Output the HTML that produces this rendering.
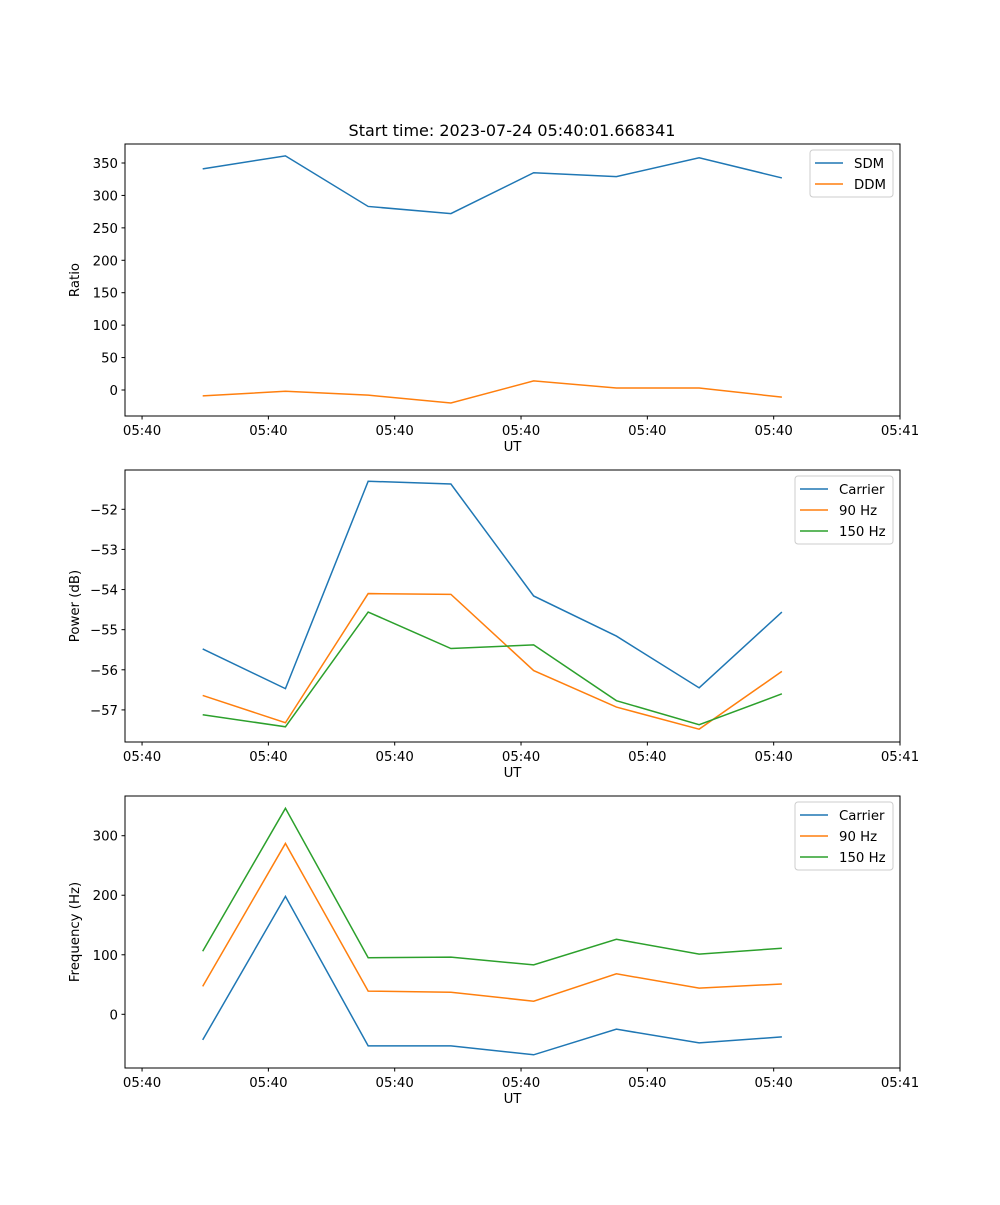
<!DOCTYPE html>
<html><head><meta charset="utf-8"><style>
body{margin:0;background:#fff;font-family:"Liberation Sans","DejaVu Sans",sans-serif}
svg text{font-family:"DejaVu Sans","Liberation Sans",sans-serif;font-size:13.3px;fill:#000}
</style></head><body>
<svg id="fig" width="1000" height="1200" xmlns="http://www.w3.org/2000/svg">
<rect width="1000" height="1200" fill="#fff"/>
<text x="512" y="136" text-anchor="middle" font-size="16" style="font-size:16px">Start time: 2023-07-24 05:40:01.668341</text>
</svg>
<script>
const times=[4.8,11.35,17.9,24.45,31.0,37.55,44.1,50.65];
const xTicks=[0,10,20,30,40,50,60];
const xTickLabels=["05:40","05:40","05:40","05:40","05:40","05:40","05:41"];
const sdm=[341,361,283,272,335,329,358,327];
const ddm=[-9,-2,-8,-20,14,3,3,-11];
const pCarrier=[-55.48,-56.47,-51.30,-51.37,-54.16,-55.16,-56.45,-54.56];
const p90=[-56.64,-57.32,-54.10,-54.12,-56.02,-56.93,-57.48,-56.04];
const p150=[-57.12,-57.42,-54.56,-55.47,-55.38,-56.77,-57.37,-56.60];
const fCarrier=[-43,198,-53,-53,-68,-25,-48,-38];
const f90=[47,287,39,37,22,68,44,51];
const f150=[106,346,95,96,83,126,101,111];
const ticks1=[0,50,100,150,200,250,300,350];
const ticks2=[-57,-56,-55,-54,-53,-52];
const ticks3=[0,100,200,300];
const C=['#1f77b4','#ff7f0e','#2ca02c'];
const NS='http://www.w3.org/2000/svg';
const svg=document.getElementById('fig');
function el(t,a,p){const e=document.createElementNS(NS,t);for(const k in a)e.setAttribute(k,a[k]);(p||svg).appendChild(e);return e;}
const L=125,R=900,xmin=-1.35,xmax=60;
const xs=v=>L+(v-xmin)/(xmax-xmin)*(R-L);
function panel(name,top,bot,ymin,ymax,yt,ylabel,series,names,lw){
  const g=el('g',{});
  
  
  const ys=v=>bot-(v-ymin)/(ymax-ymin)*(bot-top);
  series.forEach((s,i)=>{
    const p=el('polyline',{points:s.map((v,j)=>xs(times[j])+','+ys(v)).join(' '),fill:'none',stroke:C[i],'stroke-width':1.5},g);
    
    
  });
  el('rect',{x:L,y:top,width:R-L,height:bot-top,fill:'none',stroke:'#000','stroke-width':1},g);
  xTicks.forEach((t,i)=>{const x=xs(t);el('line',{x1:x,x2:x,y1:bot,y2:bot+3.5,stroke:'#000'},g);
    const tx=el('text',{x:x,y:bot+19,'text-anchor':'middle'},g);tx.textContent=xTickLabels[i];
    
    });
  yt.forEach(t=>{const y=ys(t);el('line',{x1:L,x2:L-3.5,y1:y,y2:y,stroke:'#000'},g);
    const tx=el('text',{x:L-7,y:y+5,'text-anchor':'end'},g);tx.textContent=String(t).replace('-','\u2212');
    
    });
  const xl=el('text',{x:(L+R)/2,y:bot+35,'text-anchor':'middle'},g);xl.textContent='UT';
  
  
  const cy=(top+bot)/2;
  const yl=el('text',{x:79,y:cy,'text-anchor':'middle',transform:`rotate(-90 79 ${cy})`},g);yl.textContent=ylabel;
  
  
  const lx=names.length==2?810:795, lwid=893-lx, lh=names.length*21+5;
  const lg=el('g',{},g);
  
  
  el('rect',{x:lx,y:top+6,width:lwid,height:lh,fill:'#fff',stroke:'#ccc',rx:3},lg);
  names.forEach((n,i)=>{const y=top+19+i*21;
    el('line',{x1:lx+5,x2:lx+33,y1:y,y2:y,stroke:C[i],'stroke-width':1.5},lg);
    const t=el('text',{x:lx+44,y:y+5},lg);t.textContent=n;
    
    });
}
panel('ratio-panel',144,416,-40.1,379.3,ticks1,'Ratio',[sdm,ddm],['SDM','DDM']);
panel('power-panel',470,742,-57.80,-51.02,ticks2,'Power (dB)',[pCarrier,p90,p150],['Carrier','90 Hz','150 Hz']);
panel('frequency-panel',796,1068,-90.2,366.7,ticks3,'Frequency (Hz)',[fCarrier,f90,f150],['Carrier','90 Hz','150 Hz']);
</script>
</body></html>
